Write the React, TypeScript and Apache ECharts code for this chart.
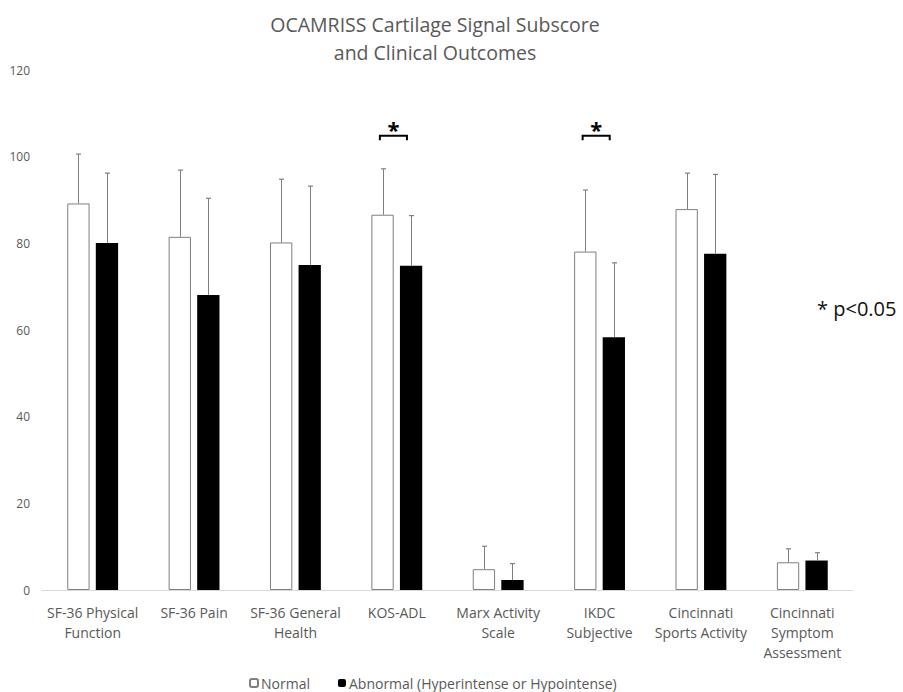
import React, { useEffect, useRef } from "react";
import * as echarts from "echarts";

const categories = [
  "SF-36 Physical\nFunction",
  "SF-36 Pain",
  "SF-36 General\nHealth",
  "KOS-ADL",
  "Marx Activity\nScale",
  "IKDC\nSubjective",
  "Cincinnati\nSports Activity",
  "Cincinnati\nSymptom\nAssessment",
];
const normalMean = [89.2, 81.5, 80.2, 86.6, 4.8, 78.1, 87.9, 6.4];
const normalSD = [11.4, 15.4, 14.6, 10.6, 5.3, 14.2, 8.3, 3.1];
const abnormalMean = [80.1, 68.1, 75.0, 74.8, 2.3, 58.3, 77.6, 6.8];
const abnormalSD = [16.1, 22.3, 18.2, 11.6, 3.8, 17.2, 18.3, 1.8];
const significantIdx = [3, 5];
const bracketLevel = 104.8;
const yTicks = { min: 0, max: 120, interval: 20 };

const seriesNames = ["Normal", "Abnormal (Hyperintense or Hypointense)"];
const FONT = "'Open Sans', 'Noto Sans', sans-serif";
const GRAY = "#595959";

export default function App() {
  const ref = useRef<HTMLDivElement>(null);
  useEffect(() => {
    if (!ref.current) return;
    const chart = echarts.init(ref.current, null, { renderer: "svg" });
    const barW = 0.22;
    const gap = 0.28;
    const off = barW / 2 + (barW * gap) / 2;

    const errSeries = (means: number[], sds: number[], sign: number) => ({
      type: "custom",
      z: 5,
      silent: true,
      data: means.map((m, i) => [i, m, m + sds[i]]),
      renderItem: (params: any, api: any) => {
        const i = api.value(0);
        const base = api.coord([i, api.value(1)]);
        const top = api.coord([i, api.value(2)]);
        const band = api.size([1, 0])[0];
        const x = Math.round(base[0] + sign * off * band) + 0.5;
        return {
          type: "group",
          children: [
            {
              type: "line",
              shape: { x1: x, y1: base[1], x2: x, y2: top[1] },
              style: { stroke: "#7f7f7f", lineWidth: 1 },
            },
            {
              type: "line",
              shape: { x1: x - 2.5, y1: top[1], x2: x + 2.5, y2: top[1] },
              style: { stroke: "#7f7f7f", lineWidth: 1.2 },
            },
          ],
        };
      },
    });

    chart.setOption({
      animation: false,
      backgroundColor: "#ffffff",
      grid: { left: 42, right: 50, top: 70, bottom: 102, containLabel: false },
      graphic: [
        {
          type: "text",
          x: 435,
          y: 10,
          style: {
            text: "OCAMRISS Cartilage Signal Subscore\nand Clinical Outcomes",
            textAlign: "center",
            font: `19.5px ${FONT}`,
            lineHeight: 28,
            fill: GRAY,
          },
        },
        {
          type: "text",
          x: 817,
          y: 308,
          style: {
            text: "* p<0.05",
            textVerticalAlign: "middle",
            font: `20px ${FONT}`,
            fill: "#111",
          },
        },
      ],
      legend: {
        data: seriesNames,
        left: 249,
        top: 676,
        padding: 0,
        itemWidth: 8,
        itemHeight: 8,
        itemGap: 28,
        textStyle: { fontFamily: FONT, fontSize: 14, lineHeight: 14, color: GRAY, padding: [0, 0, 0, -2] },
      },
      xAxis: {
        type: "category",
        data: categories,
        axisLine: { lineStyle: { color: "#d9d9d9", width: 1 } },
        axisTick: { show: false },
        axisLabel: {
          interval: 0,
          margin: 12,
          fontFamily: FONT,
          fontSize: 14,
          lineHeight: 20,
          color: GRAY,
        },
      },
      yAxis: {
        type: "value",
        min: yTicks.min,
        max: yTicks.max,
        interval: yTicks.interval,
        splitLine: { show: false },
        axisLine: { show: false },
        axisTick: { show: false },
        axisLabel: { margin: 12, fontFamily: FONT, fontSize: 12, color: GRAY },
      },
      series: [
        {
          name: seriesNames[0],
          type: "bar",
          barWidth: "22%",
          barGap: "28%",
          data: normalMean,
          itemStyle: { color: "#ffffff", borderColor: "#7f7f7f", borderWidth: 1 },
        },
        {
          name: seriesNames[1],
          type: "bar",
          barWidth: "22%",
          data: abnormalMean,
          itemStyle: { color: "#000000" },
        },
        errSeries(normalMean, normalSD, -1),
        errSeries(abnormalMean, abnormalSD, 1),
        {
          type: "custom",
          z: 6,
          silent: true,
          data: significantIdx.map((i) => [i, bracketLevel]),
          renderItem: (params: any, api: any) => {
            const c = api.coord([api.value(0), api.value(1)]);
            const band = api.size([1, 0])[0];
            const x1 = c[0] - 0.167 * band;
            const x2 = c[0] + 0.1 * band;
            return {
              type: "group",
              children: [
                {
                  type: "polyline",
                  shape: { points: [[x1, c[1] + 4.5], [x1, c[1]], [x2, c[1]], [x2, c[1] + 4.5]] },
                  style: { stroke: "#000", lineWidth: 2, fill: null },
                },
                {
                  type: "text",
                  x: (x1 + x2) / 2,
                  y: c[1] - 18,
                  style: {
                    text: "*",
                    textAlign: "center",
                    textVerticalAlign: "top",
                    font: `bold 22px ${FONT}`,
                    fill: "#000",
                  },
                },
              ],
            };
          },
        },
      ],
    });
    return () => chart.dispose();
  }, []);
  return (
    <div
      ref={ref}
      style={{ position: "absolute", left: 0, top: 0, width: 903, height: 692 }}
    />
  );
}
